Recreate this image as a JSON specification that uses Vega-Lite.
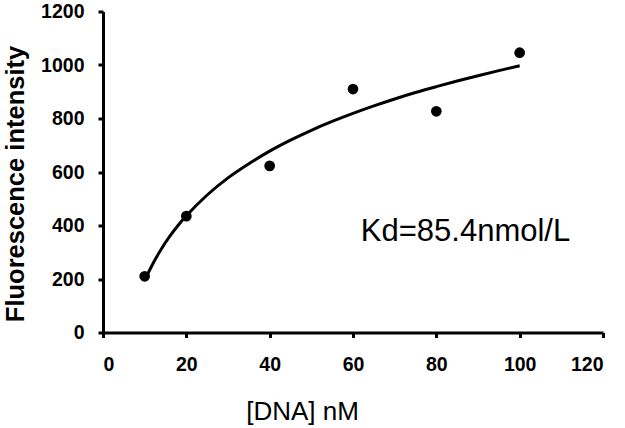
{
  "$schema": "https://vega.github.io/schema/vega-lite/v6.json",
  "autosize": "none",
  "width": 500,
  "height": 321,
  "padding": {"left": 103, "top": 11.5, "right": 22, "bottom": 95},
  "background": "white",
  "config": {
    "view": {"stroke": null},
    "font": "Liberation Sans",
    "axis": {
      "grid": false,
      "domainColor": "black",
      "domainWidth": 3,
      "tickColor": "black",
      "tickWidth": 3,
      "tickSize": 5,
      "labelFont": "Liberation Sans",
      "labelFontWeight": "bold",
      "labelFontSize": 19.5,
      "labelColor": "black",
      "titleColor": "black",
      "titleFont": "Liberation Sans"
    }
  },
  "datasets": {
    "points": [
      {"dna": 10, "intensity": 210},
      {"dna": 20, "intensity": 435},
      {"dna": 40, "intensity": 623},
      {"dna": 60, "intensity": 910},
      {"dna": 80, "intensity": 827},
      {"dna": 100, "intensity": 1046}
    ],
    "curve": [
      {"dna": 10, "fit": 195},
      {"dna": 12, "fit": 258},
      {"dna": 14, "fit": 312},
      {"dna": 16, "fit": 359},
      {"dna": 18, "fit": 400},
      {"dna": 20, "fit": 436},
      {"dna": 25, "fit": 514},
      {"dna": 30, "fit": 578},
      {"dna": 35, "fit": 631},
      {"dna": 40, "fit": 678},
      {"dna": 45, "fit": 719},
      {"dna": 50, "fit": 756},
      {"dna": 55, "fit": 789},
      {"dna": 60, "fit": 819},
      {"dna": 65, "fit": 847},
      {"dna": 70, "fit": 873},
      {"dna": 75, "fit": 897},
      {"dna": 80, "fit": 919},
      {"dna": 85, "fit": 940},
      {"dna": 90, "fit": 960},
      {"dna": 95, "fit": 979},
      {"dna": 100, "fit": 997}
    ],
    "note": [
      {"dna": 87, "intensity": 376, "label": "Kd=85.4nmol/L"}
    ]
  },
  "layer": [
    {
      "data": {"name": "curve"},
      "mark": {"type": "line", "color": "black", "strokeWidth": 3, "interpolate": "monotone"},
      "encoding": {
        "x": {
          "field": "dna", "type": "quantitative",
          "scale": {"domain": [0, 120], "nice": false},
          "axis": {
            "values": [0, 20, 40, 60, 80, 100, 120],
            "format": "d",
            "title": "[DNA] nM",
            "titleFontSize": 26,
            "titleFontWeight": "normal",
            "titleX": 199,
            "titleY": 79,
            "titleAlign": "center",
            "titleBaseline": "middle",
            "labelPadding": 18
          }
        },
        "y": {
          "field": "fit", "type": "quantitative",
          "scale": {"domain": [0, 1200], "nice": false},
          "axis": {
            "values": [0, 200, 400, 600, 800, 1000, 1200],
            "format": "d",
            "title": "Fluorescence intensity",
            "titleFontSize": 25.5,
            "titleFontWeight": "bold",
            "titleAngle": -90,
            "titleX": -88,
            "titleY": 172,
            "titleAlign": "center",
            "titleBaseline": "middle",
            "labelPadding": 14
          }
        }
      }
    },
    {
      "data": {"name": "points"},
      "mark": {"type": "point", "filled": true, "color": "black", "opacity": 1, "size": 115},
      "encoding": {
        "x": {"field": "dna", "type": "quantitative"},
        "y": {"field": "intensity", "type": "quantitative"}
      }
    },
    {
      "data": {"name": "note"},
      "mark": {"type": "text", "fontSize": 31, "font": "Liberation Sans", "color": "black", "align": "center", "baseline": "middle"},
      "encoding": {
        "x": {"field": "dna", "type": "quantitative"},
        "y": {"field": "intensity", "type": "quantitative"},
        "text": {"field": "label"}
      }
    }
  ]
}
